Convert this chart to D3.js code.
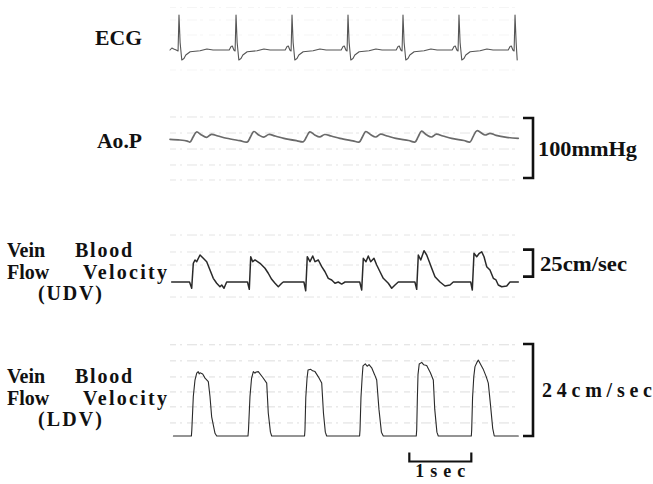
<!DOCTYPE html>
<html><head><meta charset="utf-8">
<script src="https://cdn.jsdelivr.net/npm/d3@7"></script>
<style>body{margin:0;background:#fff}svg{display:block}</style>
</head><body><svg id="c" width="653" height="484"></svg>
<script>
// ---- DATA (time in seconds) ----
// ECG (mV)
const ecgData = [
[0,0],[0.03,0.08],[0.06,0.04],[0.1,0],[0.13,-0.04],[0.145,1.4],[0.163,0.3],[0.19,-0.4],[0.225,-0.34],[0.255,-0.2],[0.325,-0.07],[0.485,-0.03],[0.595,0.04],[0.695,0],
[0.955,0],[0.985,0.14],[1.005,0.16],[1.03,0],[1.05,-0.04],[1.065,1.4],[1.083,0.3],[1.11,-0.4],[1.145,-0.34],[1.175,-0.2],[1.245,-0.07],[1.405,-0.03],[1.515,0.04],[1.615,0],
[1.858,0],[1.888,0.14],[1.908,0.16],[1.933,0],[1.953,-0.04],[1.968,1.4],[1.986,0.3],[2.013,-0.4],[2.048,-0.34],[2.078,-0.2],[2.148,-0.07],[2.308,-0.03],[2.418,0.04],[2.518,0],
[2.761,0],[2.791,0.14],[2.811,0.16],[2.836,0],[2.856,-0.04],[2.871,1.4],[2.889,0.3],[2.916,-0.4],[2.951,-0.34],[2.981,-0.2],[3.051,-0.07],[3.211,-0.03],[3.321,0.04],[3.421,0],
[3.648,0],[3.678,0.14],[3.698,0.16],[3.723,0],[3.743,-0.04],[3.758,1.4],[3.776,0.3],[3.803,-0.4],[3.838,-0.34],[3.868,-0.2],[3.938,-0.07],[4.098,-0.03],[4.208,0.04],[4.308,0],
[4.551,0],[4.581,0.14],[4.601,0.16],[4.626,0],[4.646,-0.04],[4.661,1.4],[4.679,0.3],[4.706,-0.4],[4.741,-0.34],[4.771,-0.2],[4.841,-0.07],[5.001,-0.03],[5.111,0.04],[5.211,0],
[5.455,0],[5.485,0.14],[5.505,0.16],[5.53,0],[5.55,-0.04],[5.565,1.4],[5.583,0.3],[5.6,-0.4]
];
// Aortic pressure (mmHg)
const aopData = [
[0,104.5],[0.16,103.3],[0.28,101.5],[0.323,100],
[0.373,108.3],[0.428,116.7],[0.508,111.7],[0.588,107.8],[0.668,112.8],[0.773,110],[0.913,106.2],[1.128,102.2],[1.247,100],
[1.297,108.3],[1.352,117.5],[1.432,111.7],[1.512,108],[1.592,112.5],[1.697,110],[1.837,106],[2.05,102],[2.15,100.5],
[2.2,108.3],[2.255,117],[2.335,111.7],[2.415,108.5],[2.495,112.5],[2.6,110],[2.74,106],[2.95,102],[3.053,100],
[3.103,108.3],[3.158,117.5],[3.238,112],[3.318,108.3],[3.398,113],[3.503,110],[3.643,106],[3.85,102.5],[3.952,100],
[4.002,108.5],[4.057,118],[4.137,112],[4.217,108.3],[4.297,113],[4.402,110],[4.542,106],[4.74,102.5],[4.839,100],
[4.889,109],[4.95,118.8],[5.08,111.7],[5.161,114.5],[5.26,111],[5.43,107.8],[5.618,106.2]
];
// Vein blood flow velocity, UDV (cm/sec)
const udvData = [
[0.027,0],[0.315,0],[0.35,-5.8],[0.376,17.3],[0.403,20.4],[0.431,18.8],[0.484,25],[0.537,21.9],[0.592,18.8],[0.645,11.1],[0.698,3.4],[0.753,-1.2],[0.806,-4.4],[0.834,-2.8],[0.871,-5.8],[0.914,0],
[1.25,0],[1.279,-6.8],[1.302,23.4],[1.334,18.8],[1.371,20.4],[1.452,17.3],[1.532,12.7],[1.585,8.1],[1.64,2.5],[1.694,-1.2],[1.747,-4.4],[1.802,-1.2],[1.827,0],
[2.16,0],[2.189,-8.1],[2.214,23.4],[2.258,18.8],[2.302,24.1],[2.339,18.8],[2.392,20.4],[2.447,14.2],[2.5,9.5],[2.553,3.4],[2.608,1.9],[2.661,-1.2],[2.714,0],[2.769,-1.9],[2.823,0],
[3.06,0],[3.092,-7.4],[3.118,21.9],[3.161,18.8],[3.198,24.1],[3.237,18.8],[3.29,21.9],[3.334,15.7],[3.387,9.5],[3.44,3.4],[3.521,-1.2],[3.576,-5.8],[3.629,-2.8],[3.682,0],
[3.95,0],[3.979,-6.8],[4.005,25],[4.044,20.4],[4.097,29],[4.14,25],[4.182,18.8],[4.221,12.7],[4.274,4.9],[4.355,0],[4.435,-3.7],[4.516,-2.8],[4.569,0],
[4.85,0],[4.876,-7.4],[4.903,26.6],[4.947,23.4],[4.989,26.6],[5.027,28],[5.065,23.4],[5.108,14.2],[5.161,11.1],[5.215,3.4],[5.258,1.9],[5.295,-2.8],[5.35,-4.4],[5.431,-3.7],[5.484,0],[5.618,0]
];
// Vein blood flow velocity, LDV (cm/sec)
const ldvData = [
[0.055,0],[0.345,0],[0.352,1.6],[0.376,10.3],[0.403,14.6],[0.431,16.4],[0.455,16.8],[0.47,16.2],[0.484,16.5],[0.527,16.2],[0.565,15.1],[0.618,14.2],[0.645,10.3],[0.672,5.0],[0.726,0.7],[0.753,0],
[1.258,0],[1.266,1.6],[1.29,10.3],[1.315,15],[1.344,16.8],[1.37,16.4],[1.39,16.7],[1.424,16.8],[1.5,15.2],[1.56,13.8],[1.585,6],[1.62,1],[1.64,0],
[2.17,0],[2.177,1.6],[2.19,10],[2.21,15],[2.226,17.2],[2.27,17.4],[2.3,17.0],[2.339,16.8],[2.39,15.5],[2.447,13.8],[2.475,6],[2.505,1],[2.527,0],
[3.058,0],[3.065,1.6],[3.08,10],[3.1,15.5],[3.113,18.3],[3.15,18.8],[3.18,18.2],[3.21,18.6],[3.253,17.8],[3.3,16],[3.334,14.6],[3.37,7],[3.41,1],[3.44,0],
[3.972,0],[3.979,1.6],[3.99,10],[4.0,16],[4.02,18.8],[4.06,19.2],[4.09,18.6],[4.14,18.4],[4.2,16.5],[4.247,14.6],[4.27,7],[4.305,1],[4.327,0],
[4.86,0],[4.866,1.6],[4.88,10],[4.9,15.5],[4.919,18.1],[4.95,19.2],[4.973,19.8],[5.0,19.0],[5.05,17.5],[5.1,15.5],[5.134,13.8],[5.17,8],[5.205,2],[5.23,0],[5.618,0]
];
// chart-paper ruling (in each panel's units)
const ecgGrid = [1.7, 1.2, 0.6, -0.8];
const aopGrid = [141.7, 115, 88.3, 61.7, 36.7];
const udvGrid = [43.5, 27.8, 15.7, -13.9];
const ldvGrid = [23.8, 19.6, 15.4, 11.5, 7.6, 3.4];
// calibration bars
const aopBar = [40, 140];      // 100 mmHg
const udvBar = [5, 30];        // 25 cm/sec
const ldvBar = [0, 24];        // 24 cm/sec
const timeBar = [3.86, 4.86];  // 1 sec
// labels
const panelNames = [["ECG"], ["Ao.P"], ["Vein  Blood", "Flow  Velocity", "(UDV)"], ["Vein  Blood", "Flow  Velocity", "(LDV)"]];
const barLabels = ["100mmHg", "25cm/sec", "24cm/sec"];
const timeLabel = "1sec";

// ---- SCALES ----
const svg = d3.select("#c");
const x = d3.scaleLinear().domain([0, 5.65]).range([170, 170 + 5.65 * 62]);
const yEcg = d3.scaleLinear().domain([-0.5, 1.5]).range([62.5, 12.5]);
const yAop = d3.scaleLinear().domain([40, 140]).range([178, 118]);
const yUdv = d3.scaleLinear().domain([0, 25]).range([282, 255]);
const yLdv = d3.scaleLinear().domain([0, 24]).range([436, 344]);

const FONT = "'Liberation Serif','Times New Roman',serif";

// ---- GRID (faint paper ruling) ----
function grid(vals, y, op) {
  svg.append("g").selectAll("line").data(vals).join("line")
    .attr("x1", x(0)).attr("x2", x(5.62))
    .attr("y1", d => y(d)).attr("y2", d => y(d))
    .attr("stroke", "#c4c4c4").attr("stroke-width", 0.8)
    .attr("stroke-dasharray", "6 4 2 5 10 3 3 6")
    .attr("opacity", op);
}
grid(ecgGrid, yEcg, 0.2);
grid(aopGrid, yAop, 0.55);
grid(udvGrid, yUdv, 0.55);
grid(ldvGrid, yLdv, 0.7);

// ---- TRACES ----
function trace(data, y, color, w, curve) {
  svg.append("path").datum(data)
    .attr("d", d3.line().curve(curve || d3.curveLinear).x(d => x(d[0])).y(d => y(d[1])))
    .attr("fill", "none").attr("stroke", color).attr("stroke-width", w)
    .attr("stroke-linejoin", "round").attr("stroke-linecap", "round");
}
trace(ecgData, yEcg, "#555", 1.1);
trace(aopData, yAop, "#6a6a6a", 1.7, d3.curveCatmullRom.alpha(0.5));
trace(udvData, yUdv, "#2a2a2a", 1.5);
trace(ldvData, yLdv, "#2a2a2a", 1.1);

// ---- CALIBRATION BRACKETS ----
const bx = 533;
function bracket(range, y) {
  const y0 = y(range[1]), y1 = y(range[0]);
  svg.append("path")
    .attr("d", `M${bx - 10},${y0}H${bx}V${y1}H${bx - 10}`)
    .attr("fill", "none").attr("stroke", "#111").attr("stroke-width", 2.6);
  return (y0 + y1) / 2;
}
const c1 = bracket(aopBar, yAop);
const c2 = bracket(udvBar, yUdv);
const c3 = bracket(ldvBar, yLdv);

function txt(s, xx, yy, size, len, adj) {
  const t = svg.append("text").attr("x", xx).attr("y", yy)
    .attr("font-family", FONT).attr("font-weight", "bold")
    .attr("font-size", size).attr("fill", "#111").text(s);
  if (len) t.attr("textLength", len).attr("lengthAdjust", adj || "spacingAndGlyphs");
  return t;
}
txt(barLabels[0], 538, c1 + 8, 21, 99);
txt(barLabels[1], 540, c2 + 8, 20, 87);
txt(barLabels[2], 542, c3 + 7, 20, 110, "spacing");

// time bar
const tx0 = x(timeBar[0]), tx1 = x(timeBar[1]), ty = 461.5;
svg.append("path").attr("d", `M${tx0},${ty - 9}V${ty}H${tx1}V${ty - 9}`)
  .attr("fill", "none").attr("stroke", "#111").attr("stroke-width", 2.2);
txt(timeLabel, (tx0 + tx1) / 2 - 25, 477, 18, 50, "spacing");

// ---- PANEL NAMES ----
txt(panelNames[0][0], 95, 45, 20, 47);
txt(panelNames[1][0], 97, 148, 20, 45);
function multi(lines, top) {
  const [w1, w2] = lines[0].split(/\s+/);
  const [w3, w4] = lines[1].split(/\s+/);
  txt(w1, 7, top, 20);
  txt(w2, 75, top, 20, 57, "spacing");
  txt(w3, 7, top + 22, 20);
  txt(w4, 83, top + 22, 20, 84, "spacing");
  txt(lines[2], 38, top + 43, 20, 64, "spacing");
}
multi(panelNames[2], 257);
multi(panelNames[3], 383);
</script></body></html>
